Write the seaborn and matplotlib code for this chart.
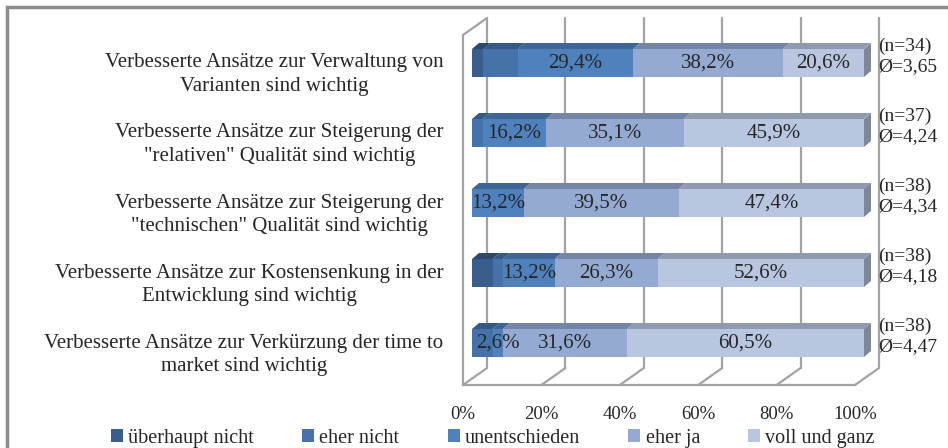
import matplotlib
matplotlib.use("Agg")
import numpy as np
import pandas as pd
import matplotlib.pyplot as plt
import seaborn as sns
from matplotlib.transforms import offset_copy, IdentityTransform
from matplotlib.patches import Polygon, Rectangle, Patch
from matplotlib.colors import to_rgb

# Data (percent of answers per statement)
statements = [
    "Verbesserte Ansätze zur Verwaltung von\nVarianten sind wichtig",
    "Verbesserte Ansätze zur Steigerung der\n\"relativen\" Qualität sind wichtig",
    "Verbesserte Ansätze zur Steigerung der\n\"technischen\" Qualität sind wichtig",
    "Verbesserte Ansätze zur Kostensenkung in der\nEntwicklung sind wichtig",
    "Verbesserte Ansätze zur Verkürzung der time to\nmarket sind wichtig",
]
levels = ["überhaupt nicht", "eher nicht", "unentschieden", "eher ja", "voll und ganz"]
ueberhaupt_nicht = [2.9, 0.0, 0.0, 5.3, 0.0]
eher_nicht = [8.8, 2.7, 0.0, 2.6, 5.3]
unentschieden = [29.4, 16.2, 13.2, 13.2, 2.6]
eher_ja = [38.2, 35.1, 39.5, 26.3, 31.6]
voll_und_ganz = [20.6, 45.9, 47.4, 52.6, 60.5]
n_values = [34, 37, 38, 38, 38]
means = ["3,65", "4,24", "4,34", "4,18", "4,47"]
labelled = ["unentschieden", "eher ja", "voll und ganz"]

colors = ["#3A5E8C", "#4472A9", "#4F81BD", "#95AAD3", "#B9C6E0"]
line_grey = "#A3A3A3"

df = pd.DataFrame({
    "statement": statements,
    "überhaupt nicht": ueberhaupt_nicht,
    "eher nicht": eher_nicht,
    "unentschieden": unentschieden,
    "eher ja": eher_ja,
    "voll und ganz": voll_und_ganz,
})
cum = df[levels].cumsum(axis=1)

sns.set_style("white")
plt.rcParams["font.family"] = ["Liberation Serif", "DejaVu Serif"]

W, H = 948, 448
fig = plt.figure(figsize=(W / 100, H / 100), dpi=100)
# axes = front plane of the 3D box
ax = fig.add_axes([463 / W, 1 - 385 / H, (855 - 463) / W, 350 / H])

# stacked bars: draw cumulative totals from the back
for lvl, col in reversed(list(zip(levels, colors))):
    sns.barplot(x=cum[lvl], y=df["statement"], order=statements, color=col,
                width=0.4, orient="h", saturation=1, ax=ax, zorder=3)

ax.set_xlim(0, 100)
ax.set_ylim(4.5, -0.5)
ax.set_autoscale_on(False)

# bar front faces sit a bit behind the front plane
bar_dx, bar_dy = 9, 7
depth_dx, depth_dy = 7, 6
wall_dx, wall_dy = 24, 17
bar_shift = offset_copy(ax.transData, fig=fig, x=bar_dx, y=bar_dy, units="dots")
for p in ax.patches:
    p.set_transform(bar_shift)
    p.set_linewidth(0)
    p.set_clip_on(False)


def darker(c, f):
    r, g, b = to_rgb(c)
    return (r * f, g * f, b * f)


def px(x, y):
    return ax.transData.transform((x, y))


ident = IdentityTransform()

# back wall gridlines
wall_shift = offset_copy(ax.transData, fig=fig, x=wall_dx, y=wall_dy, units="dots")
for v in range(0, 101, 20):
    ax.plot([v, v], [4.5, -0.5], transform=wall_shift, color=line_grey, lw=1.6,
            clip_on=False, zorder=1)
    # floor diagonals
    x0, y0 = px(v, 4.5)
    ax.plot([x0, x0 + wall_dx], [y0, y0 + wall_dy], transform=ident,
            color=line_grey, lw=1.6, clip_on=False, zorder=1)
# top-left edge of the side wall
x0, y0 = px(0, -0.5)
ax.plot([x0, x0 + wall_dx], [y0, y0 + wall_dy], transform=ident,
        color=line_grey, lw=1.6, clip_on=False, zorder=1)

# top and side faces of the bars
for i in range(len(statements)):
    left = 0.0
    for lvl, col in zip(levels, colors):
        w = df.loc[i, lvl]
        if w > 0:
            xa, yt = px(left, i - 0.2)
            xb, _ = px(left + w, i - 0.2)
            pts = [(xa + bar_dx, yt + bar_dy), (xb + bar_dx, yt + bar_dy),
                   (xb + bar_dx + depth_dx, yt + bar_dy + depth_dy),
                   (xa + bar_dx + depth_dx, yt + bar_dy + depth_dy)]
            ax.add_patch(Polygon(pts, closed=True, facecolor=darker(col, 0.78),
                                 lw=0, transform=ident, clip_on=False, zorder=3))
            if lvl in labelled:
                txt = f"{w:.1f}".replace(".", ",") + "%"
                ax.text(left + w / 2, i, txt, transform=bar_shift, ha="center",
                        va="center", fontsize=15, zorder=5, clip_on=False)
        left += w
    xe, yt = px(100, i - 0.2)
    _, yb = px(100, i + 0.2)
    side = [(xe + bar_dx, yt + bar_dy), (xe + bar_dx + depth_dx, yt + bar_dy + depth_dy),
            (xe + bar_dx + depth_dx, yb + bar_dy + depth_dy), (xe + bar_dx, yb + bar_dy)]
    ax.add_patch(Polygon(side, closed=True, facecolor=darker(colors[-1], 0.68),
                         lw=0, transform=ident, clip_on=False, zorder=3))
    # n and mean on the right
    note_tr = offset_copy(ax.transData, fig=fig, x=23, y=14, units="dots")
    ax.text(100, i, f"(n={n_values[i]})\nØ={means[i]}", transform=note_tr,
            ha="left", va="center", fontsize=14, linespacing=1.25, clip_on=False)

# axes styling
sns.despine(ax=ax, top=True, right=True)
for s in ["left", "bottom"]:
    ax.spines[s].set_color(line_grey)
    ax.spines[s].set_linewidth(1.6)
ax.set_xticks(range(0, 101, 20))
ax.set_xticklabels([f"{v}%" for v in range(0, 101, 20)])
ax.tick_params(axis="x", direction="out", length=4, width=1.6, color=line_grey,
               labelsize=13.5, pad=11)
ax.set_yticks(range(len(statements)))
ax.set_yticklabels(statements)
ax.set_yticks(np.arange(-0.5, 5, 1), minor=True)
ax.tick_params(axis="y", which="major", length=0, labelsize=15, pad=14)
ax.tick_params(axis="y", which="minor", direction="out", length=5, width=1.6,
               color=line_grey)
for t in ax.get_yticklabels():
    t.set_multialignment("center")
    t.set_linespacing(1.35)
ax.set_xlabel("")
ax.set_ylabel("")
ax.set_facecolor("none")

# legend
handles = [Patch(facecolor=c, edgecolor="none") for c in colors]
fig.legend(handles, levels, ncol=5, loc="center", bbox_to_anchor=(0.52, 1 - 438 / H),
           frameon=False, fontsize=14.5, handlelength=0.6, handleheight=0.6,
           handletextpad=0.25, columnspacing=2.4, borderaxespad=0, borderpad=0)

# chart frame (only top and left edges are inside the picture)
fig.add_artist(Rectangle((7 / W, -0.1), 1.2, 1 - 7 / H + 0.1, transform=fig.transFigure,
                         fill=False, edgecolor="#8C8C8C", lw=2.5))

fig.savefig("out.png", dpi=100, facecolor="white")
